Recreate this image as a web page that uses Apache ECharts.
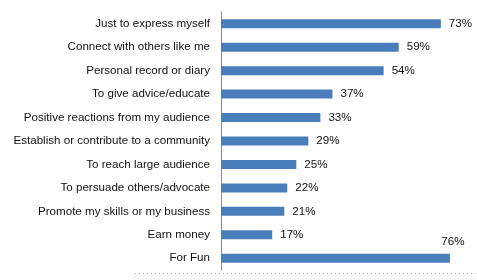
<!DOCTYPE html>
<html>
<head>
<meta charset="utf-8">
<script src="https://cdn.jsdelivr.net/npm/echarts@6/dist/echarts.min.js"></script>
<style>html,body{margin:0;padding:0;background:#fff}#c{width:477px;height:280px}</style>
</head>
<body>
<div id="c"></div>
<script>
const categories = [
  "Just to express myself",
  "Connect with others like me",
  "Personal record or diary",
  "To give advice/educate",
  "Positive reactions from my audience",
  "Establish or contribute to a community",
  "To reach large audience",
  "To persuade others/advocate",
  "Promote my skills or my business",
  "Earn money",
  "For Fun"
];
const values = [73, 59, 54, 37, 33, 29, 25, 22, 21, 17, 76];
const aboveLabelIndex = [10];

const chart = echarts.init(document.getElementById('c'), null, {renderer: 'canvas'});
const font = '"Liberation Sans", Arial, sans-serif';
chart.setOption({
  animation: false,
  backgroundColor: '#fff',
  grid: {left: 221, top: 12, right: 0, height: 258, containLabel: false},
  xAxis: {type: 'value', min: 0, max: 85, show: false},
  yAxis: {
    type: 'category', data: categories, inverse: true,
    axisLine: {show: true, lineStyle: {color: '#8c8c8c', width: 1}},
    axisTick: {show: false},
    axisLabel: {margin: 11, color: '#111', fontSize: 11.6, fontFamily: font}
  },
  series: [{
    type: 'bar', barWidth: 9,
    itemStyle: {color: '#4a7ebb'},
    label: {show: true, position: 'right', distance: 8, formatter: '{c}%', color: '#111', fontSize: 11.6, fontFamily: font},
    data: values.map((v, i) => aboveLabelIndex.includes(i) ? {
      value: v,
      label: {position: ['100%', 0], align: 'center', verticalAlign: 'bottom', offset: [3, -6]}
    } : v)
  }],
  graphic: [{
    type: 'line', silent: true,
    shape: {x1: 135, y1: 273.5, x2: 477, y2: 273.5},
    style: {stroke: '#b0b0b0', lineWidth: 1, lineDash: [1, 3]}
  }]
});
</script>
</body>
</html>
